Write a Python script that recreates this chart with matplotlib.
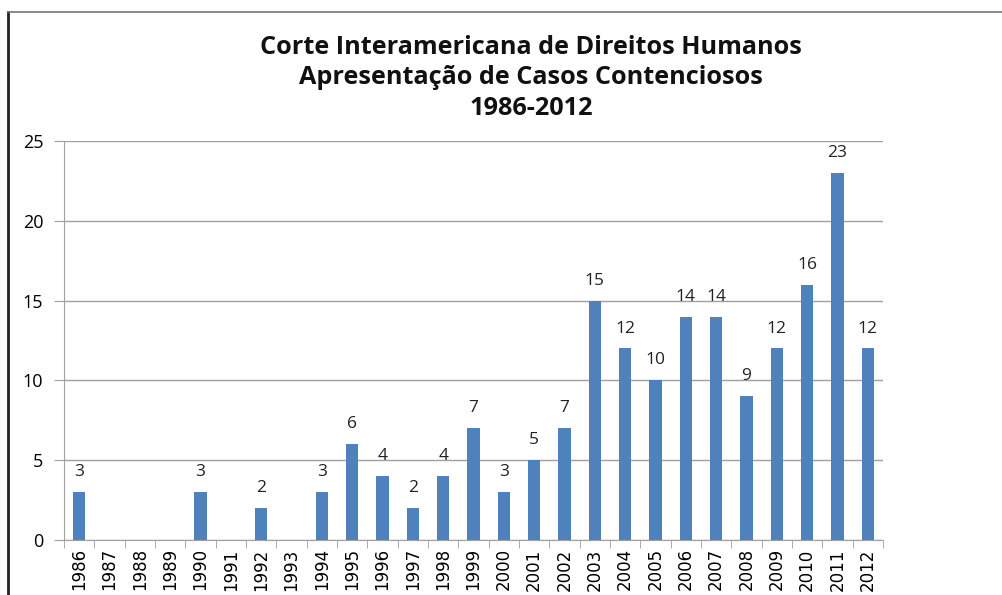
import matplotlib.pyplot as plt
from matplotlib.lines import Line2D

anos = [str(a) for a in range(1986, 2013)]
casos = [3, 0, 0, 0, 3, 0, 2, 0, 3, 6, 4, 2, 4, 7, 3, 5, 7,
         15, 12, 10, 14, 14, 9, 12, 16, 23, 12]

azul = '#4f81bd'
cinza = '#a0a0a0'

fig = plt.figure(figsize=(10.03, 5.95), dpi=100)
ax = fig.add_axes([64/1003, 1 - 540/595, (883-64)/1003, (540-141)/595])

x = list(range(len(anos)))
ax.bar(x, casos, width=0.4, color=azul, zorder=3)
for xi, v in zip(x, casos):
    if v > 0:
        ax.text(xi, v + 0.75, str(v), ha='center', va='bottom',
                fontsize=12.5, family=['Open Sans', 'DejaVu Sans'], color='#222222')

ax.set_xlim(-0.5, len(anos) - 0.5)
ax.set_ylim(0, 25)
ax.set_yticks(range(0, 26, 5))
ax.yaxis.grid(True, color=cinza, lw=1, zorder=0)
ax.set_xticks(x)
ax.set_xticklabels(anos, rotation=90, fontsize=12,
                   family=['Liberation Sans Narrow', 'DejaVu Sans'])
ax.set_xticks([i - 0.5 for i in range(len(anos) + 1)], minor=True)
ax.tick_params(axis='x', which='major', length=0, pad=6)
ax.tick_params(axis='x', which='minor', length=6, color=cinza)
ax.tick_params(axis='y', length=7, color=cinza, labelsize=13, pad=8)
for lbl in ax.get_yticklabels():
    lbl.set_family(['Open Sans', 'DejaVu Sans'])
for s in ['top', 'right']:
    ax.spines[s].set_visible(False)
for s in ['left', 'bottom']:
    ax.spines[s].set_color(cinza)

titulo = 'Corte Interamericana de Direitos Humanos\nApresentação de Casos Contenciosos\n1986-2012'
fig.text(531/1003, 1 - 78/595, titulo, ha='center', va='center',
         fontsize=18.2, fontweight='bold', linespacing=1.3,
         family=['Open Sans', 'DejaVu Sans'], color='#111111')

# moldura
fig.add_artist(Line2D([8/1003, 8/1003], [0, 1 - 12/595], transform=fig.transFigure,
                      color='#222222', lw=2))
fig.add_artist(Line2D([8/1003, 1], [1 - 12/595, 1 - 12/595], transform=fig.transFigure,
                      color='#777777', lw=1.2))

fig.savefig('out.png', dpi=100)
